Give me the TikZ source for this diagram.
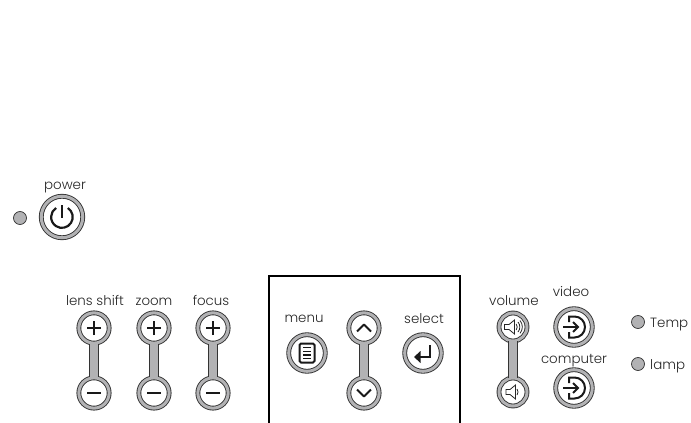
\documentclass[tikz,border=0pt]{standalone}
\usepackage{fontspec}
\setmainfont{Poppins}[UprightFont=* Light]
\usepackage{tikz,xcolor}
\usetikzlibrary{calc}
\definecolor{ringgray}{RGB}{178,178,180}
\tikzset{
  btn/.style={circle,draw=black!80,fill=white,line width=0.9pt,double=ringgray,double distance=3pt,inner sep=0pt,minimum size=#1},
  led/.style={circle,draw=black!80,fill=ringgray,line width=0.7pt,inner sep=0pt,minimum size=13pt},
  bar/.style={draw=black!80,line width=0.9pt,double=ringgray,double distance=8.9pt},
  lab/.style={inner sep=0pt,anchor=base,text=black!85,font=\fontsize{13.4}{14}\selectfont},
  glyph/.style={line width=2pt,black!90},
  thinglyph/.style={line width=0.8pt,black!85}
}
\newcommand{\plusmark}{\draw[glyph] (-7,0) -- (7,0) (0,-7) -- (0,7);}
\newcommand{\minusmark}{\draw[glyph] (-7,0) -- (7,0);}
\newcommand{\inputmark}{\draw[glyph] (-5,5) -- (-5,10.5) -- (0.5,10.5) arc (90:-90:10.5) -- (-5,-10.5) -- (-5,-5);
  \draw[glyph] (-11,0) -- (4,0); \draw[glyph] (-1,5) -- (4,0) -- (-1,-5);}
\begin{document}
\begin{tikzpicture}[x=1pt,y=1pt]
  \useasboundingbox (0,0) rectangle (691,-423);

  % power
  \node[lab] (powerlab) at (65,-189) {power};
  \node[led] (powerled) at (20,-218) {};
  \node[btn=41.5pt] (power) at (62,-217) {};
  \begin{scope}[shift={(power)}]
    \draw[glyph,line width=2.2pt] (5.8,9) arc (57:-237:10.8);
    \draw[glyph,line width=2.2pt] (0,12) -- (0,-1);
  \end{scope}

  % lens shift, zoom, focus
  \node[lab] (lenslab) at (95,-305) {lens shift};
  \node[lab] (zoomlab) at (154,-305) {zoom};
  \node[lab] (focuslab) at (211,-305) {focus};
  \foreach \name/\px in {lens/94,zoom/154,focus/213}{
    \node[btn=30.3pt] (\name plus) at (\px,-328) {};
    \node[btn=30.3pt] (\name minus) at (\px,-393) {};
    \draw[bar] (\name plus) -- (\name minus);
    \begin{scope}[shift={(\name plus)}] \plusmark \end{scope}
    \begin{scope}[shift={(\name minus)}] \minusmark \end{scope}
  }

  % menu group
  \draw[black,line width=1.8pt] (269,-423) -- (269,-276) -- (460,-276) -- (460,-423);
  \node[lab] (menulab) at (304,-322) {menu};
  \node[lab] (selectlab) at (424,-323) {select};
  \node[btn=36.6pt] (menu) at (307,-353) {};
  \node[btn=36.6pt] (select) at (423,-353) {};
  \node[btn=30.3pt] (up) at (364,-328) {};
  \node[btn=30.3pt] (down) at (364,-393) {};
  \draw[bar] (up) -- (down);
  \begin{scope}[shift={(menu)}]
    \draw[black!90,line width=2pt,rounded corners=1.5pt] (-7.5,-9.5) rectangle (7.5,9.5);
    \foreach \ly in {-5.4,-1.8,1.8,5.4}{ \draw[black!90,line width=1.4pt] (-4,\ly) -- (4,\ly); }
  \end{scope}
  \begin{scope}[shift={(select)}]
    \draw[glyph,line width=2.4pt] (7,8) -- (7,-4) -- (-4,-4);
    \fill[black!90] (-9,-4) -- (-2.5,2) -- (-2.5,-10) -- cycle;
  \end{scope}
  \begin{scope}[shift={(up)}]
    \draw[glyph,line join=round] (-7,-3.5) -- (0,3.5) -- (7,-3.5);
  \end{scope}
  \begin{scope}[shift={(down)}]
    \draw[glyph,line join=round] (-7,3.5) -- (0,-3.5) -- (7,3.5);
  \end{scope}

  % volume and sources
  \node[lab] (volumelab) at (514,-305) {volume};
  \node[lab] (videolab) at (571,-296) {video};
  \node[lab] (computerlab) at (574,-363) {computer};
  \node[btn=28pt] (volup) at (513,-327) {};
  \node[btn=28pt] (voldown) at (513,-392) {};
  \draw[bar] (volup) -- (voldown);
  \begin{scope}[shift={(volup)}]
    \draw[thinglyph] (-8.5,-2.5) -- (-4,-2.5) -- (1.5,-7) -- (1.5,7) -- (-4,2.5) -- (-8.5,2.5) -- cycle;
    \draw[thinglyph] (3.2,3) arc (37:-37:5) (5,5) arc (40:-40:7.8) (7,6.5) arc (40:-40:10);
  \end{scope}
  \begin{scope}[shift={(voldown)}]
    \draw[thinglyph] (-7,-2.5) -- (-3,-2.5) -- (2.5,-7) -- (2.5,7) -- (-3,2.5) -- (-7,2.5) -- cycle;
    \draw[thinglyph] (4,3) arc (37:-37:5);
  \end{scope}
  \node[btn=36.6pt] (video) at (574,-327) {};
  \node[btn=36.6pt] (computer) at (574,-388) {};
  \begin{scope}[shift={(video)}] \inputmark \end{scope}
  \begin{scope}[shift={(computer)}] \inputmark \end{scope}

  % indicators
  \node[led] (templed) at (638,-322) {};
  \node[led] (lampled) at (638,-364) {};
  \node[lab,anchor=base west] (templab) at (650,-327) {Temp};
  \node[lab,anchor=base west] (lamplab) at (650,-369) {lamp};
\end{tikzpicture}
\end{document}
